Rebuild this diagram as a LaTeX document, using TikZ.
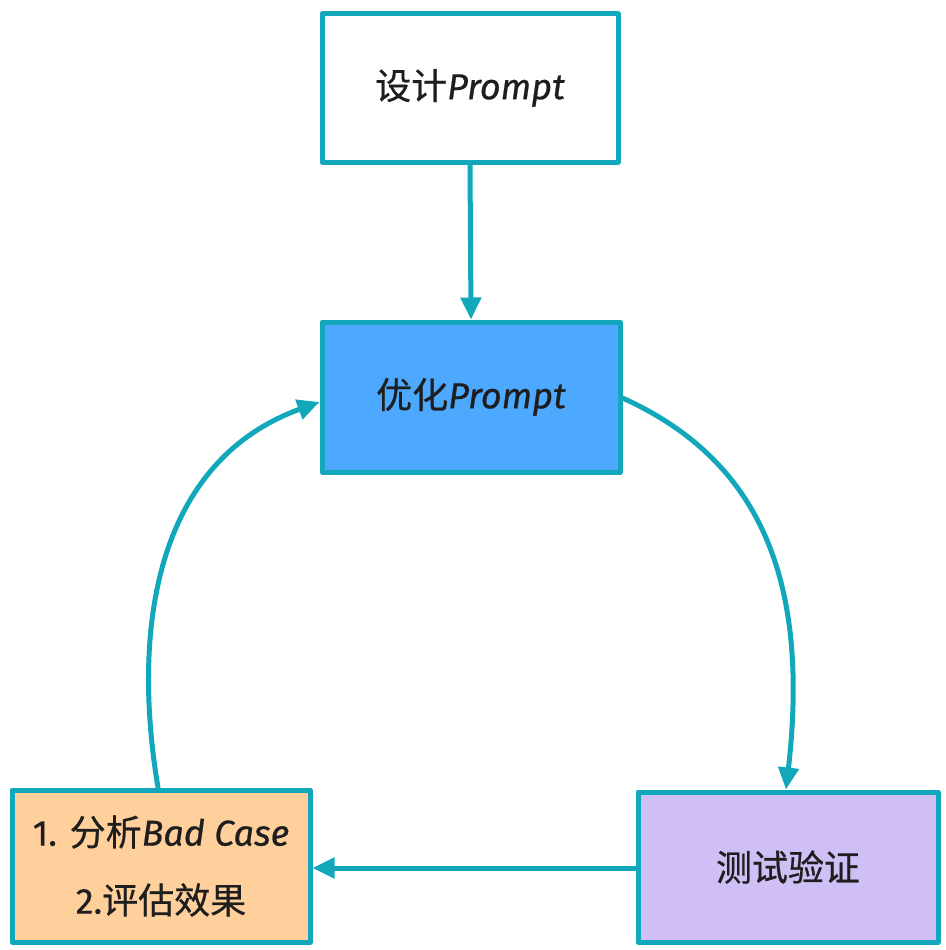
\documentclass[tikz,border=0pt]{standalone}
\usepackage{fontspec}
\usetikzlibrary{arrows.meta}
\newfontfamily\cjk[FakeBold=0.6]{Noto Sans CJK SC}
\newfontfamily\lat[FakeBold=0.6]{Fira Sans}
\definecolor{strokec}{HTML}{12A7BA}
\definecolor{bluef}{HTML}{4DA8FF}
\definecolor{orangef}{HTML}{FFCF9C}
\definecolor{purplef}{HTML}{D0BFF5}
\definecolor{inkc}{HTML}{1E1E1E}
\tikzset{
  box/.style={draw=strokec, line width=5pt, line join=round, minimum width=296pt, minimum height=148pt, inner sep=0pt, text=inkc, font=\fontsize{36}{68}\selectfont, align=center},
  conn/.style={draw=strokec, line width=5pt, line cap=round, -{Triangle[length=22pt,width=20pt]}},
}
\begin{document}
\begin{tikzpicture}[x=1pt,y=-1pt]
\useasboundingbox (0,0) rectangle (945,950);
\node[box, fill=white] (design) at (470,88) {{\cjk 设计}{\lat\itshape Prompt}};
\node[box, fill=bluef, minimum width=298pt, minimum height=150pt] (opt) at (471,397) {{\cjk 优化}{\lat\itshape Prompt}};
\node[box, fill=orangef, minimum width=298pt, minimum height=152pt] (ana) at (161,866) {{\lat 1. }{\cjk 分析}{\lat\itshape Bad Case}\\{\lat 2.}{\cjk 评估效果}};
\node[box, fill=purplef, minimum width=300pt, minimum height=150pt] (test) at (788,867) {{\cjk 测试验证}};
\draw[conn] (design.south) -- (opt.north);
\draw[conn] (opt.east |- 0,398) .. controls (760,460) and (810,580) .. (test.north -| 786,0);
\draw[conn] (test.west |- 0,868) -- (ana.east |- 0,868);
\draw[conn] (ana.north -| 158,0) .. controls (130,620) and (160,460) .. (opt.west |- 0,402);
\end{tikzpicture}
\end{document}
